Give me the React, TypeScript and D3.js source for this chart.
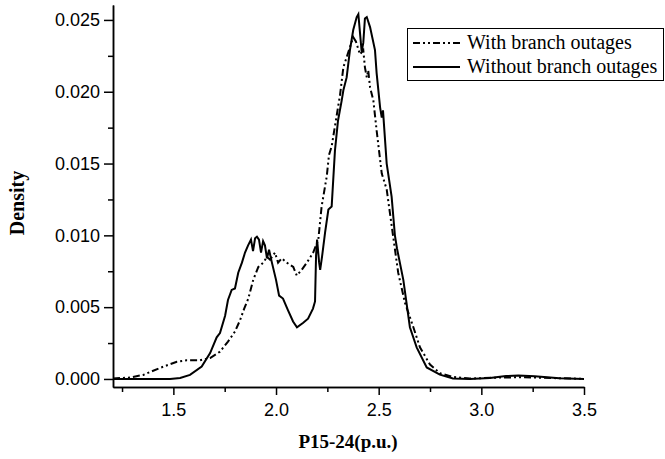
import React from 'react'
import * as d3 from 'd3';
import { useEffect, useRef } from 'react';

// x positions (p.u.) and densities
const withoutX = [1.206, 1.387, 1.484, 1.533, 1.581, 1.638, 1.679, 1.711, 1.727, 1.752, 1.766, 1.784, 1.8, 1.816, 1.834, 1.849, 1.864, 1.878, 1.888, 1.898, 1.907, 1.917, 1.927, 1.937, 1.946, 1.956, 1.966, 1.98, 2.0, 2.015, 2.034, 2.058, 2.083, 2.102, 2.131, 2.156, 2.18, 2.19, 2.195, 2.2, 2.21, 2.215, 2.224, 2.239, 2.255, 2.271, 2.287, 2.302, 2.32, 2.328, 2.344, 2.36, 2.376, 2.393, 2.401, 2.409, 2.417, 2.425, 2.433, 2.442, 2.458, 2.482, 2.49, 2.507, 2.515, 2.521, 2.539, 2.563, 2.579, 2.589, 2.62, 2.652, 2.685, 2.734, 2.798, 2.862, 2.944, 3.042, 3.12, 3.18, 3.26, 3.38, 3.5];
const withoutY = [0, 0, 0, 0.00007, 0.00028, 0.00086, 0.0018, 0.0029, 0.0032, 0.0044, 0.0055, 0.0062, 0.0063, 0.0074, 0.0081, 0.0088, 0.0093, 0.0097, 0.0089, 0.0098, 0.0099, 0.0097, 0.0088, 0.0096, 0.0093, 0.0084, 0.009, 0.0081, 0.0069, 0.0058, 0.0056, 0.0048, 0.004, 0.0036, 0.0039, 0.0042, 0.0049, 0.0054, 0.0086, 0.0097, 0.0081, 0.0076, 0.0085, 0.0102, 0.0118, 0.012, 0.0159, 0.018, 0.0194, 0.0201, 0.021, 0.0229, 0.0243, 0.0252, 0.0254, 0.0241, 0.0228, 0.0234, 0.0251, 0.0252, 0.0245, 0.0229, 0.0213, 0.0189, 0.0182, 0.0187, 0.015, 0.0127, 0.01, 0.0091, 0.0069, 0.0036, 0.0022, 0.0008, 0.0003, 0.00003, 0, 0.00006, 0.0002, 0.00024, 0.00018, 0.00005, 0];

const withX = [1.206, 1.289, 1.353, 1.435, 1.517, 1.565, 1.63, 1.679, 1.727, 1.766, 1.8, 1.825, 1.845, 1.865, 1.889, 1.914, 1.938, 1.956, 1.971, 1.995, 2.01, 2.028, 2.052, 2.084, 2.101, 2.125, 2.15, 2.181, 2.206, 2.222, 2.247, 2.258, 2.271, 2.287, 2.312, 2.328, 2.344, 2.36, 2.376, 2.389, 2.409, 2.425, 2.433, 2.442, 2.449, 2.458, 2.474, 2.49, 2.515, 2.539, 2.563, 2.595, 2.628, 2.669, 2.701, 2.75, 2.798, 2.862, 2.944, 3.09, 3.21, 3.38, 3.5];
const withY = [0.00003, 0.0001, 0.00028, 0.00077, 0.0012, 0.0013, 0.0013, 0.00146, 0.0019, 0.0026, 0.0033, 0.0041, 0.0049, 0.0056, 0.0069, 0.0078, 0.0081, 0.0085, 0.0083, 0.0088, 0.0081, 0.0084, 0.0081, 0.0078, 0.0072, 0.0076, 0.0081, 0.0088, 0.0097, 0.012, 0.0141, 0.0156, 0.0162, 0.0176, 0.0198, 0.0217, 0.0224, 0.0231, 0.0238, 0.0235, 0.0226, 0.0229, 0.0217, 0.021, 0.0215, 0.0203, 0.0194, 0.0173, 0.0143, 0.0132, 0.0107, 0.0074, 0.0053, 0.0036, 0.0022, 0.001, 0.0004, 0.00014, 0.00003, 0.0001, 0.00012, 0.00005, 0.00001];

const xTicks = [1.5, 2.0, 2.5, 3.0, 3.5];
const xMinor = [1.25, 1.75, 2.25, 2.75, 3.25];
const yTicks = [0, 0.005, 0.01, 0.015, 0.02, 0.025];
const yMinor = [0.0025, 0.0075, 0.0125, 0.0175, 0.0225];

const legendLabels = ['With branch outages', 'Without branch outages'];
const DASH = '7,3,2,3,2,3';
const SERIF = '"Liberation Serif", "Times New Roman", serif';

function DensityPlot({ width = 665, height = 459 }) {
  const gx = useRef(null);
  const gxm = useRef(null);
  const gy = useRef(null);
  const gym = useRef(null);

  const x = d3.scaleLinear([1.206, 3.5], [113, 584]);
  const y = d3.scaleLinear([-0.00056, 0.02604], [387, 5]);
  const line = d3.line<[number, number]>().x(d => x(d[0])).y(d => y(d[1]));
  const withPts = withX.map((v, i) => [v, withY[i]] as [number, number]);
  const withoutPts = withoutX.map((v, i) => [v, withoutY[i]] as [number, number]);

  useEffect(() => {
    d3.select(gx.current).call(
      d3.axisBottom(x).tickValues(xTicks).tickFormat(d3.format('.1f')).tickSize(8).tickSizeOuter(0).tickPadding(8)
    );
    d3.select(gxm.current).call(d3.axisBottom(x).tickValues(xMinor).tickFormat(() => '').tickSize(5).tickSizeOuter(0));
    d3.select(gy.current).call(
      d3.axisLeft(y).tickValues(yTicks).tickFormat(d3.format('.3f')).tickSize(9).tickSizeOuter(0).tickPadding(4)
    );
    d3.select(gym.current).call(d3.axisLeft(y).tickValues(yMinor).tickFormat(() => '').tickSize(5).tickSizeOuter(0));
    for (const g of [gx, gy, gxm, gym]) {
      const s = d3.select(g.current);
      s.selectAll('path,line').attr('stroke', '#000').attr('stroke-width', 1.5);
      s.selectAll('text').attr('font-family', '"Liberation Sans", Arial, sans-serif').attr('font-size', 18).attr('fill', '#000');
    }
  }, [x, y]);

  return (
    <svg width={width} height={height} style={{ position: 'absolute', left: 0, top: 0, background: '#fff' }}>
      <path d={line(withPts) ?? ''} fill="none" stroke="#000" strokeWidth={2} strokeDasharray={DASH} />
      <path d={line(withoutPts) ?? ''} fill="none" stroke="#000" strokeWidth={2} />
      <g ref={gxm} transform="translate(0,387)" />
      <g ref={gx} transform="translate(0,387)" />
      <g ref={gym} transform="translate(113,0)" />
      <g ref={gy} transform="translate(113,0)" />
      <text x={348} y={448} textAnchor="middle" fontFamily={SERIF} fontWeight="bold" fontSize={19}>P15-24(p.u.)</text>
      <text transform="translate(24,203) rotate(-90)" textAnchor="middle" fontFamily={SERIF} fontWeight="bold" fontSize={20}>Density</text>
      <g>
        <rect x={407.5} y={28.5} width={256} height={52} fill="#fff" stroke="#000" strokeWidth={1} />
        {legendLabels.map((label, i) => (
          <g key={label} transform={`translate(0,${43 + i * 24})`}>
            <line x1={413} x2={460} y1={0} y2={0} stroke="#000" strokeWidth={2} strokeDasharray={i === 0 ? DASH : undefined} />
            <text x={467} y={6} fontFamily={SERIF} fontSize={20}>{label}</text>
          </g>
        ))}
      </g>
    </svg>
  );
}

export default function App() {
  return <DensityPlot />;
}
